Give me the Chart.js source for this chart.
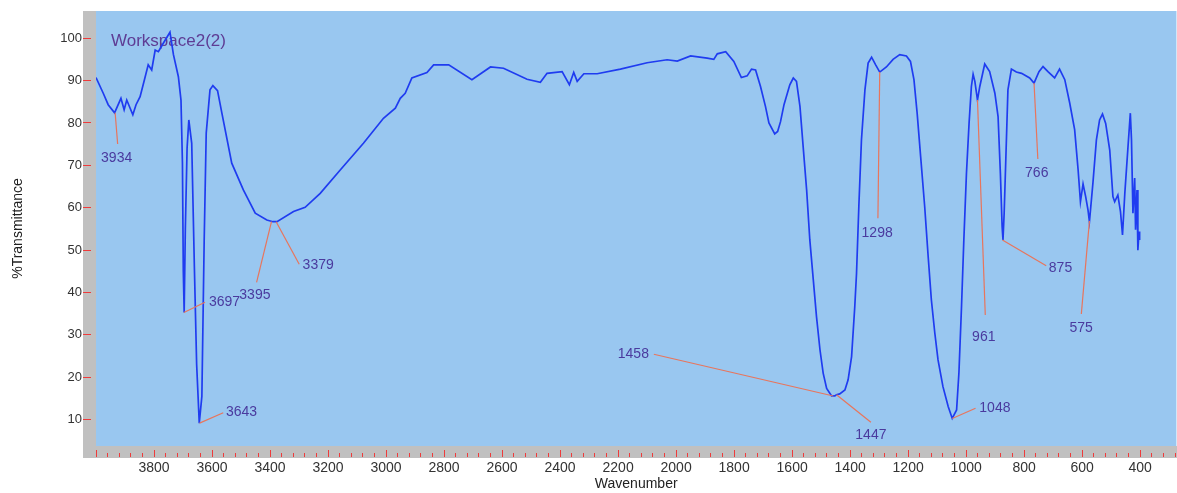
<!DOCTYPE html>
<html>
<head>
<meta charset="utf-8">
<script src="https://cdn.jsdelivr.net/npm/chart.js@4.4.1/dist/chart.umd.min.js"></script>
<style>
  html, body { margin: 0; padding: 0; background: #fff; }
  canvas { display: block; }
</style>
</head>
<body>
<canvas id="ir" width="1177" height="493"></canvas>
<script>
const WAVENUMBER = [
  4000, 3975, 3958, 3936, 3914, 3903, 3894, 3873, 3862, 3848, 3833, 3820, 3808, 3796, 3785, 3768,
  3745, 3733, 3716, 3707, 3702, 3699, 3696, 3692, 3686, 3680, 3670, 3661, 3653, 3644, 3635, 3627,
  3620, 3607, 3597, 3581, 3566, 3532, 3492, 3451, 3411, 3390, 3376, 3319, 3279, 3227, 3158, 3078,
  3009, 2968, 2951, 2934, 2911, 2859, 2836, 2784, 2704, 2640, 2595, 2514, 2468, 2445, 2393, 2368,
  2353, 2341, 2318, 2272, 2192, 2100, 2031, 1996, 1950, 1893, 1870, 1858, 1829, 1801, 1775, 1755,
  1740, 1726, 1709, 1692, 1680, 1660, 1650, 1640, 1628, 1608, 1596, 1585, 1573, 1562, 1550, 1539,
  1527, 1516, 1504, 1493, 1481, 1464, 1453, 1447, 1436, 1418, 1407, 1395, 1384, 1378, 1370, 1361,
  1349, 1338, 1326, 1312, 1298, 1275, 1252, 1229, 1206, 1192, 1180, 1169, 1157, 1143, 1131, 1120,
  1108, 1097, 1080, 1062, 1048, 1033, 1025, 1016, 1008, 999, 990, 982, 976, 970, 961, 953,
  936, 919, 901, 890, 882, 876, 873, 869, 863, 856, 844, 827, 809, 781, 766, 749,
  735, 718, 695, 678, 660, 643, 626, 614, 606, 597, 588, 580, 575, 563, 551, 540,
  530, 519, 505, 494, 488, 477, 468, 461, 453, 442, 434, 430, 425, 419, 416, 411,
  408, 404, 402
];
const TRANSMITTANCE = [
  90.7, 87.0, 84.3, 82.4, 85.8, 83.1, 85.4, 81.9, 84.3, 86.2, 90.2, 93.7, 92.5, 97.2, 96.8, 98.8,
  101.4, 96.1, 90.9, 85.4, 70.5, 45.0, 35.3, 55.0, 74.0, 80.7, 75.2, 46.5, 23.0, 9.2, 15.5, 52.4,
  77.6, 87.8, 88.8, 87.6, 82.3, 70.5, 64.2, 58.7, 57.1, 56.7, 56.7, 59.1, 60.1, 63.4, 68.9, 75.2,
  81.1, 83.5, 85.8, 87.0, 90.6, 91.9, 93.7, 93.7, 90.2, 93.2, 92.9, 90.3, 89.6, 91.7, 92.1, 89.0,
  91.9, 89.8, 91.6, 91.6, 92.7, 94.2, 94.9, 94.6, 95.8, 95.3, 95.0, 96.3, 96.8, 94.5, 90.7, 91.1,
  92.7, 92.5, 88.6, 83.9, 80.0, 77.4, 78.0, 80.3, 84.3, 89.0, 90.6, 89.8, 83.9, 74.4, 64.2, 52.4,
  43.0, 34.3, 26.5, 21.0, 17.4, 15.6, 15.6, 15.9, 16.1, 17.0, 19.4, 24.9, 36.7, 44.5, 60.3, 76.0,
  87.8, 94.1, 95.5, 93.7, 92.0, 93.2, 95.0, 96.1, 95.8, 94.5, 90.2, 82.3, 72.1, 60.3, 48.5, 38.3,
  30.4, 24.1, 17.8, 13.1, 10.3, 12.3, 21.0, 36.7, 52.4, 68.1, 79.9, 88.6, 91.5, 89.8, 85.4, 88.6,
  93.9, 92.1, 87.0, 81.5, 68.1, 55.5, 52.4, 58.7, 72.1, 87.8, 92.7, 92.0, 91.7, 90.6, 89.4, 92.1,
  93.3, 92.1, 90.6, 92.7, 90.2, 84.7, 78.4, 68.9, 61.4, 65.6, 62.6, 59.5, 56.7, 65.8, 76.0, 80.7,
  82.1, 79.9, 73.6, 62.6, 61.4, 63.0, 59.1, 53.6, 63.4, 74.4, 82.3, 76.0, 58.7, 67.0, 54.8, 64.2,
  50.0, 54.4, 52.4
];

// picked peaks
const PEAK_WN = [3934, 3697, 3643, 3395, 3379, 1458, 1447, 1298, 1048, 961, 875, 766, 575];
const PEAK_T = [82.4, 35.3, 9.2, 56.7, 56.7, 15.6, 15.9, 92.0, 10.3, 85.4, 52.4, 89.4, 56.9];

const Y_TICKS = [10, 20, 30, 40, 50, 60, 70, 80, 90, 100];
const SPECTRUM_NAME = 'Workspace2(2)';

// leader line end and label position, px offsets from the peak point
const LABEL_LAYOUT = [
  [2.5, 31.2, 1.5, 45.5, 'center'],
  [21.1, -10.2, 25.1, -10.8, 'left'],
  [23.7, -10.4, 26.4, -10.8, 'left'],
  [-14.9, 60.6, -16.6, 73.3, 'center'],
  [23.1, 42.6, 26.5, 43.3, 'left'],
  [-179.5, -41.7, -184.4, -41.7, 'right'],
  [34.4, 27.6, 34.4, 40.3, 'center'],
  [-1.8, 146.2, -2.6, 160.6, 'center'],
  [23.3, -10.2, 27.1, -10.8, 'left'],
  [7.8, 215, 6.3, 236.7, 'center'],
  [43.8, 25.7, 46.4, 27.7, 'left'],
  [3.8, 75.9, 2.7, 90.2, 'center'],
  [-8.1, 93.1, -8.3, 107.4, 'center']
];

const FONT = 'Liberation Sans, Arial, sans-serif';
const TICK_RED = '#ee3b3b';

const spectrumDecor = {
  id: 'spectrumDecor',
  beforeDraw(chart) {
    const { ctx, chartArea: a } = chart;
    ctx.save();
    ctx.fillStyle = '#c0c0c0';
    ctx.fillRect(a.left - 13, a.top, 13, a.bottom - a.top + 12);
    ctx.fillRect(a.left - 13, a.bottom, chart.width - a.left + 13, 12);
    ctx.fillStyle = '#99c7f0';
    ctx.fillRect(a.left, a.top, a.right - a.left, a.bottom - a.top);
    ctx.restore();
  },
  beforeDatasetsDraw(chart) {
    const { ctx, chartArea: a } = chart;
    ctx.save();
    ctx.font = '17px ' + FONT;
    ctx.fillStyle = '#5e3c94';
    ctx.textAlign = 'left';
    ctx.textBaseline = 'middle';
    ctx.fillText(SPECTRUM_NAME, a.left + 15, a.top + 30);
    ctx.restore();
  },
  afterDatasetsDraw(chart) {
    const { ctx } = chart;
    const xs = chart.scales.x, ys = chart.scales.y;
    ctx.save();
    ctx.font = '14px ' + FONT;
    ctx.textBaseline = 'middle';
    PEAK_WN.forEach((w, i) => {
      const px = xs.getPixelForValue(w);
      const py = ys.getPixelForValue(PEAK_T[i]);
      const [lx, ly, tx, ty, al] = LABEL_LAYOUT[i];
      ctx.strokeStyle = '#e8755c';
      ctx.lineWidth = 1.2;
      ctx.beginPath();
      ctx.moveTo(px, py);
      ctx.lineTo(px + lx, py + ly);
      ctx.stroke();
      ctx.fillStyle = '#4a3a9e';
      ctx.textAlign = al;
      ctx.fillText(String(w), px + tx, py + ty);
    });
    ctx.restore();
  }
};

const isMajor = c => c.tick && c.tick.value % 200 === 0;

new Chart(document.getElementById('ir'), {
  type: 'scatter',
  data: {
    datasets: [{
      data: WAVENUMBER.map((w, i) => ({ x: w, y: TRANSMITTANCE[i] })),
      showLine: true,
      borderColor: '#1f3cf0',
      borderWidth: 1.7,
      pointRadius: 0,
      tension: 0
    }]
  },
  options: {
    responsive: false,
    animation: false,
    devicePixelRatio: 1,
    layout: { padding: { top: 11, left: 0, right: 0, bottom: 0 } },
    plugins: { legend: { display: false }, tooltip: { enabled: false } },
    scales: {
      x: {
        type: 'linear',
        reverse: true,
        min: 275,
        max: 4000,
        afterBuildTicks: s => {
          const t = [];
          for (let v = 4000; v >= 280; v -= 40) t.push({ value: v });
          s.ticks = t;
        },
        afterFit: s => { s.height = 47; },
        border: { display: false },
        grid: {
          drawOnChartArea: false,
          tickLength: 12,
          tickColor: TICK_RED,
          tickWidth: 1,
          tickBorderDash: c => isMajor(c) ? [7, 5] : [4, 8],
          tickBorderDashOffset: c => isMajor(c) ? 8 : 5
        },
        ticks: {
          autoSkip: false,
          minRotation: 0,
          maxRotation: 0,
          padding: 2,
          color: '#333',
          font: { family: FONT, size: 14 },
          callback: v => (v % 200 === 0 && v < 4000) ? String(v) : ''
        },
        title: {
          display: true,
          text: 'Wavenumber',
          color: '#222',
          font: { family: FONT, size: 14 },
          padding: { top: 0, bottom: 0 }
        }
      },
      y: {
        min: 3.8,
        max: 106.4,
        afterBuildTicks: s => { s.ticks = Y_TICKS.map(v => ({ value: v })); },
        afterFit: s => { s.width = 96; },
        border: { display: false },
        grid: {
          drawOnChartArea: false,
          tickLength: 13,
          tickColor: TICK_RED,
          tickWidth: 1,
          tickBorderDash: [8, 5]
        },
        ticks: {
          padding: 1,
          color: '#333',
          font: { family: FONT, size: 13 }
        },
        title: {
          display: true,
          text: '%Transmittance',
          color: '#222',
          font: { family: FONT, size: 14 },
          padding: { top: 10, bottom: 0 }
        }
      }
    }
  },
  plugins: [spectrumDecor]
});
</script>
</body>
</html>
